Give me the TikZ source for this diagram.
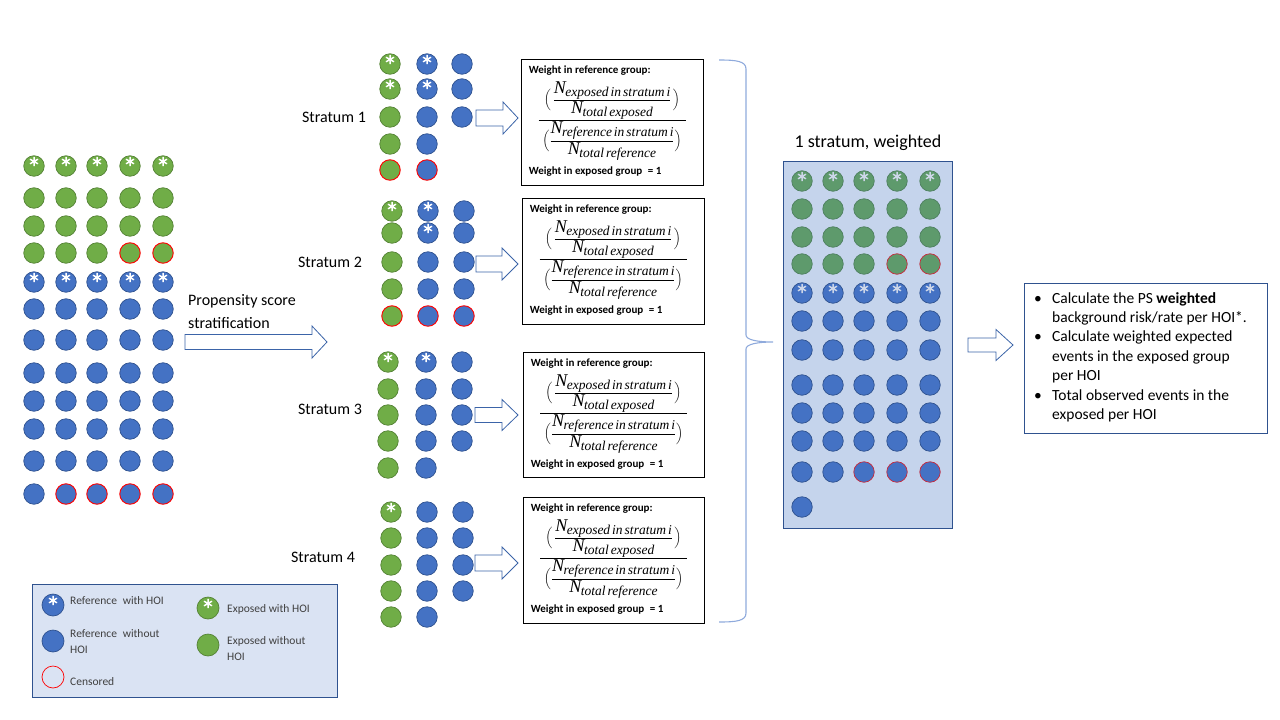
\documentclass[tikz,border=0pt]{standalone}
\usepackage{fontspec}
\usepackage{amsmath}
\setmainfont{Carlito}
\newfontfamily\tms{Liberation Serif}
\definecolor{cgreen}{HTML}{70AD47}
\definecolor{cgreenb}{HTML}{548235}
\definecolor{cblue}{HTML}{4472C4}
\definecolor{cblueb}{HTML}{2F528F}
\definecolor{wgreen}{HTML}{5E9A6C}
\definecolor{wgreenb}{HTML}{4E8060}
\definecolor{wred}{HTML}{C8283A}
\definecolor{wstar}{HTML}{CDD6E8}
\definecolor{legfill}{HTML}{DAE3F3}
\definecolor{panfill}{HTML}{C5D4EC}
\definecolor{bracec}{HTML}{8FAADC}
\definecolor{arrowc}{HTML}{3B64A8}
\definecolor{legtext}{HTML}{404040}
\newcommand\NN[1]{\text{\tms\itshape\fontsize{18}{18}\selectfont N\hspace{-0.5pt}\raisebox{-3pt}{\fontsize{13.5}{14}\selectfont\spaceskip=2pt #1}}}
\newcommand\wformula{$\displaystyle\frac{\biggl(\,\dfrac{\NN{exposed in stratum i}}{\NN{total exposed}}\,\biggr)}{\hspace{4pt}\biggl(\dfrac{\NN{reference in stratum i}}{\NN{total reference}}\biggr)\hspace{4pt}}$}
\newcommand\dotpanel[3]{%
  \foreach \yy/\types [count=\r] in {#3} {
    \foreach \t [count=\c] in \types {
      \pgfmathsetmacro\xx{{#2}[\c-1]}
      \node[\t] (#1-\r-\c) at (\xx,\yy) {};
    }}}
\newcommand\blockarrow[6]{%
  \draw[barrow] (#1,{#4-#5}) -- (#2,{#4-#5}) -- (#2,{#4-#6}) -- (#3,#4) -- (#2,{#4+#6}) -- (#2,{#4+#5}) -- (#1,{#4+#5}) -- cycle;}
\newcommand\wbox[5]{%
  \node[wboxst, minimum width={#4-#2}, minimum height={#5-#3}] (#1) at ({(#2+#4)/2},{(#3+#5)/2}) {};
  \node[wtitle, anchor=west] (#1-t) at ([xshift=8pt,yshift=-12pt]#1.north west) {Weight in reference group:};
  \node[inner sep=0pt, font=\fontsize{9}{11}\selectfont] (#1-f) at ([xshift=0pt,yshift=-62pt]#1.north) {\wformula};
  \node[wtitle, anchor=west] (#1-b) at ([xshift=8pt,yshift=-113pt]#1.north west) {Weight in exposed group\enspace= 1};}
\tikzset{
  dotbase/.style={circle, minimum size=20.5pt, inner sep=0pt, line width=0.7pt},
  hoi/.style={path picture={\draw[#1, line width=1.5pt, line cap=butt] ([yshift=4.5pt]path picture bounding box.center) +(90:4.6pt) -- +(270:4.6pt) +(30:4.6pt) -- +(210:4.6pt) +(150:4.6pt) -- +(330:4.6pt);}},
  dg/.style={dotbase, fill=cgreen, draw=cgreenb},
  dgs/.style={dg, hoi=white},
  dgc/.style={dotbase, fill=cgreen, draw=red, line width=0.9pt},
  db/.style={dotbase, fill=cblue, draw=cblueb},
  dbs/.style={db, hoi=white},
  dbc/.style={dotbase, fill=cblue, draw=red, line width=0.9pt},
  dw/.style={dotbase, fill=wgreen, draw=wgreenb},
  dws/.style={dw, hoi=wstar},
  dwc/.style={dotbase, fill=wgreen, draw=wred},
  dwb/.style={dotbase, fill=cblue, draw=cblueb},
  dwbs/.style={dwb, hoi=wstar},
  dwbc/.style={dotbase, fill=cblue, draw=wred},
  barrow/.style={draw=arrowc, fill=white, line width=0.8pt, line join=miter},
  wboxst/.style={draw=black, fill=white, line width=0.8pt, inner sep=0pt},
  wtitle/.style={font=\fontsize{11}{13}\selectfont\bfseries, inner sep=0pt},
  stlabel/.style={font=\fontsize{16}{18}\selectfont, inner sep=0pt},
  legtxt/.style={font=\fontsize{11.5}{16}\selectfont, text=legtext, inner sep=0pt, align=left, anchor=west},
}
\begin{document}
\begin{tikzpicture}[x=1pt,y=-1pt]
\useasboundingbox (0,0) rectangle (1280,720);
% left population
\dotpanel{L}{34,66,97,130,163}{166/{dgs,dgs,dgs,dgs,dgs},198/{dg,dg,dg,dg,dg},226/{dg,dg,dg,dg,dg},253/{dg,dg,dg,dgc,dgc},282/{dbs,dbs,dbs,dbs,dbs},309/{db,db,db,db,db},340/{db,db,db,db,db},373/{db,db,db,db,db},401/{db,db,db,db,db},429/{db,db,db,db,db},461/{db,db,db,db,db},494/{db,dbc,dbc,dbc,dbc}}
% propensity arrow
\node[font=\fontsize{16}{23}\selectfont, align=left, anchor=west, inner sep=0pt] (ps) at (188,311.5) {Propensity score\\stratification};
\blockarrow{185}{312}{327}{342}{7.5}{16}
% strata
\dotpanel{S1}{390,427,462}{64/{dgs,dbs,db},89/{dgs,dbs,db},117/{dg,db,db},144/{dg,db},170/{dgc,dbc}}
\dotpanel{S2}{392,428,464}{211/{dgs,dbs,db},233/{dg,dbs,db},262/{dg,db,db},289/{dg,db,db},316/{dgc,dbc,dbc}}
\dotpanel{S3}{388,426,462}{362/{dgs,dbs,db},389/{dg,db,db},415/{dg,db,db},441/{dg,db,db},468/{dg,db}}
\dotpanel{S4}{391,427,463}{512/{dgs,db,db},538/{dg,db,db},565/{dg,db,db},591/{dg,db,db},617/{dg,db}}
\node[stlabel] (l1) at (334,117) {Stratum 1};
\node[stlabel] (l2) at (330,262) {Stratum 2};
\node[stlabel] (l3) at (330,409) {Stratum 3};
\node[stlabel] (l4) at (323,557) {Stratum 4};
\blockarrow{476}{503}{518}{118}{8}{16}
\blockarrow{476}{502}{518}{264}{8}{16}
\blockarrow{475}{502}{518}{415}{7.5}{15.5}
\blockarrow{475}{502}{518}{563}{8}{16}
\wbox{B1}{521}{59}{703}{185}
\wbox{B2}{522}{198}{704}{324}
\wbox{B3}{523}{352}{704}{477}
\wbox{B4}{523}{497}{704}{623}
% brace
\draw[bracec, line width=1.1pt] (719,60) .. controls (736,60) and (746,61) .. (746,69) -- (746,335) .. controls (746,340) and (758,342) .. (773,342) .. controls (758,342) and (746,344) .. (746,349) -- (746,613) .. controls (746,621) and (736,622) .. (719,622);
% weighted panel
\node[font=\fontsize{18}{20}\selectfont, inner sep=0pt] (wt) at (868,143) {1 stratum, weighted};
\node[draw=cblueb, fill=panfill, line width=0.8pt, minimum width=169pt, minimum height=367pt, inner sep=0pt, anchor=north west] (wp) at (783,160.5) {};
\dotpanel{W}{802,833,864,897,930}{181/{dws,dws,dws,dws,dws},209/{dw,dw,dw,dw,dw},237/{dw,dw,dw,dw,dw},264/{dw,dw,dw,dwc,dwc},293/{dwbs,dwbs,dwbs,dwbs,dwbs},321/{dwb,dwb,dwb,dwb,dwb},350/{dwb,dwb,dwb,dwb,dwb},385/{dwb,dwb,dwb,dwb,dwb},413/{dwb,dwb,dwb,dwb,dwb},441/{dwb,dwb,dwb,dwb,dwb},472/{dwb,dwb,dwbc,dwbc,dwbc},507/{dwb}}
% result
\blockarrow{968}{996}{1013}{345}{7}{15.5}
\node[draw=cblueb, line width=0.8pt, minimum width=243pt, minimum height=150pt, inner sep=0pt, anchor=north west] (res) at (1024,283) {};
\node[anchor=base west, inner sep=0pt, font=\fontsize{15.5}{19.4}\selectfont] (rest) at (1034,303) {%
\begin{tabular}[t]{@{}p{18pt}@{}l@{}}
\textbullet & Calculate the PS \textbf{weighted}\\
 & background risk/rate per HOI*.\\
\textbullet & Calculate weighted expected\\
 & events in the exposed group\\
 & per HOI\\
\textbullet & Total observed events in the\\
 & exposed per HOI
\end{tabular}};
% legend
\node[draw=cblueb, fill=legfill, line width=0.8pt, minimum width=305pt, minimum height=113pt, inner sep=0pt, anchor=north west] (leg) at (32,584) {};
\node[dbs, minimum size=22pt] (k1) at (53,605) {};
\node[db, minimum size=22pt] (k2) at (53,641) {};
\node[dotbase, draw=red, minimum size=22pt] (k3) at (53,677) {};
\node[dgs, minimum size=22pt] (k4) at (208,608) {};
\node[dg, minimum size=22pt] (k5) at (208,645) {};
\node[legtxt] (t1) at (70,601) {Reference\enspace with HOI};
\node[legtxt] (t2) at (70,642) {Reference\enspace without\\HOI};
\node[legtxt] (t3) at (70,682) {Censored};
\node[legtxt] (t4) at (227,609) {Exposed with HOI};
\node[legtxt] (t5) at (227,649) {Exposed without\\HOI};
\end{tikzpicture}
\end{document}
